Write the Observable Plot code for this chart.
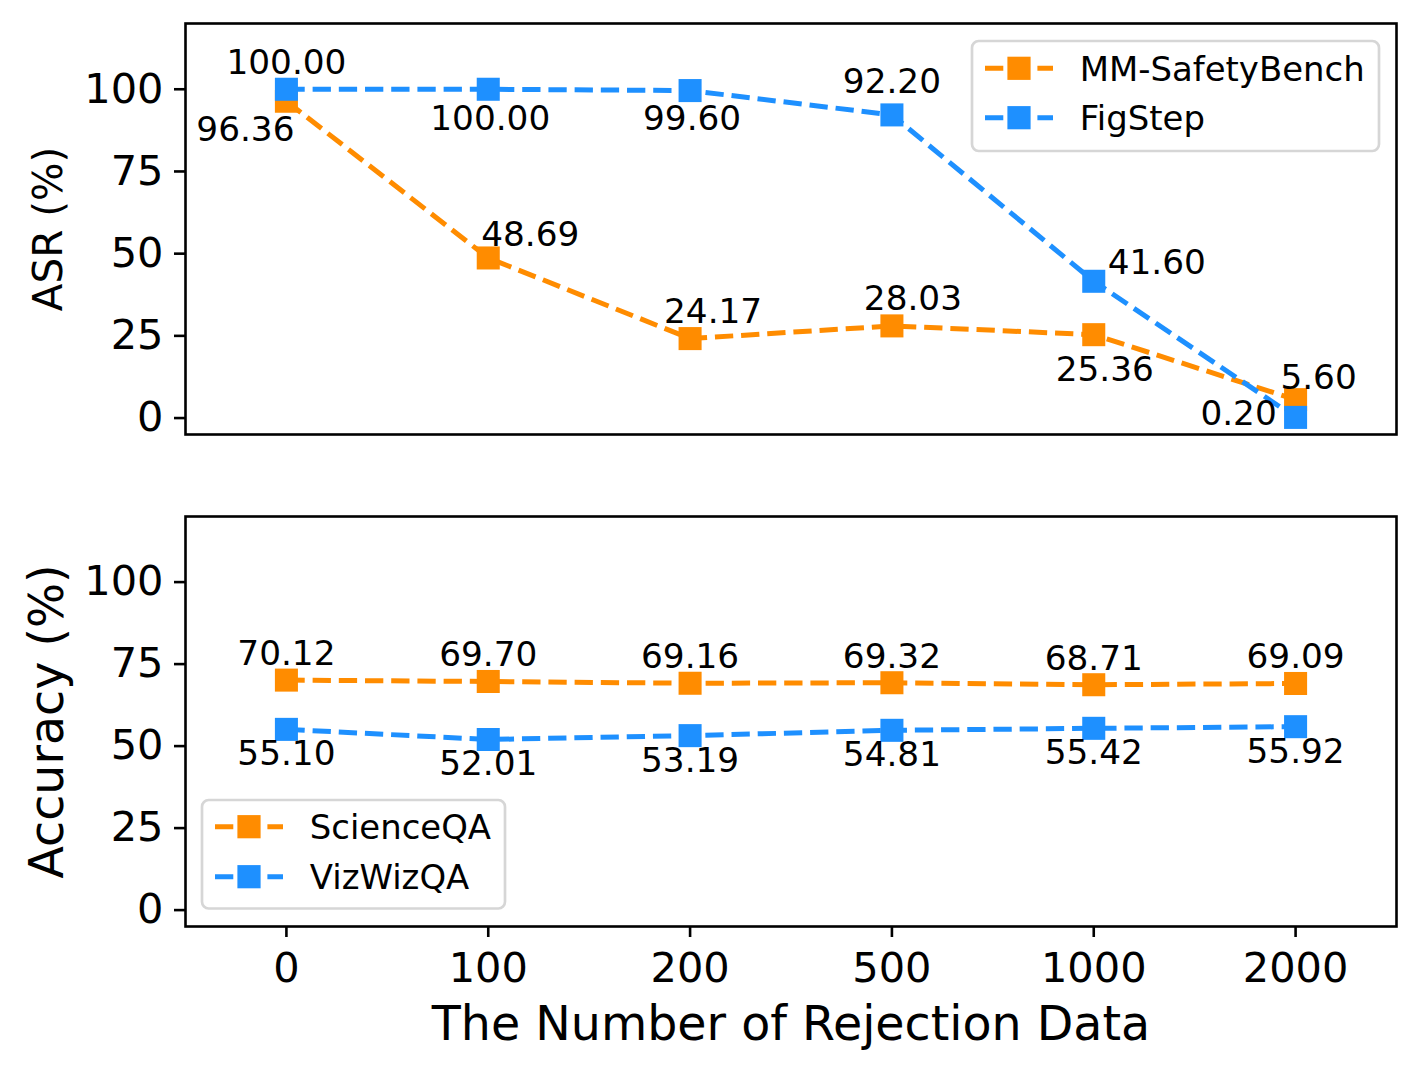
<!DOCTYPE html>
<html>
<head>
<meta charset="utf-8">
<script src="https://cdn.jsdelivr.net/npm/d3@7"></script>
<script src="https://cdn.jsdelivr.net/npm/@observablehq/plot@0.6"></script>
<style>
  html, body { margin: 0; padding: 0; background: #ffffff; }
  #chart { position: relative; width: 1420px; height: 1073px; font-family: "DejaVu Sans", sans-serif; background: #fff; }
  #chart > svg { display: block; }
  #overlay { position: absolute; left: 0; top: 0; pointer-events: none; }
</style>
</head>
<body>
<div id="chart"></div>
<script>
// ---------------- data ----------------
const xLabels = ["0", "100", "200", "500", "1000", "2000"];
const yTicks = [0, 25, 50, 75, 100];

const asrSeries = ["MM-SafetyBench", "FigStep"];
const mmSafetyBench = [96.36, 48.69, 24.17, 28.03, 25.36, 5.60];
const figStep = [100.00, 100.00, 99.60, 92.20, 41.60, 0.20];

const accSeries = ["ScienceQA", "VizWizQA"];
const scienceQA = [70.12, 69.70, 69.16, 69.32, 68.71, 69.09];
const vizWizQA = [55.10, 52.01, 53.19, 54.81, 55.42, 55.92];

const yTitleTop = "ASR (%)";
const yTitleBottom = "Accuracy (%)";
const xTitle = "The Number of Rejection Data";

// ---------------- styling ----------------
const ORANGE = "#ff8c00";
const BLUE = "#1e90ff";
const colors = [ORANGE, BLUE];
const W = 1420, ML = 185, MR = 24;
const LW = 5, DASH = "18.3,7.9";
const LABEL_FS = 34.3, TICK_FS = 41.5, LEGEND_FS = 33.9;

// label offsets (visual centre relative to the point), pixels
const labelOffsets = {
  "MM-SafetyBench": [[-41, 27.5], [42, -24.4], [23, -27.7], [21, -28], [11, 34], [23, -23.6]],
  "FigStep": [[0, -28], [2, 28], [2, 27], [0, -34], [63, -20], [-57, -5]],
  "ScienceQA": xLabels.map(() => [0, -27.5]),
  "VizWizQA": xLabels.map(() => [0, 23.5])
};

function rows(series, values) {
  return xLabels.map((x, i) => ({x, y: values[i], series, i}));
}

function panel({height, marginTop, marginBottom, series, values, yTitle, yTitleSize, yTitleDx, showX}) {
  const marks = [
    Plot.axisY({ticks: yTicks, tickSize: 11, tickPadding: 11, fontSize: TICK_FS, strokeWidth: 2.6,
                label: null, tickFormat: d => String(d)})
  ];
  if (showX) {
    marks.push(Plot.axisX({tickSize: 11, tickPadding: 15, fontSize: TICK_FS, strokeWidth: 2.6, label: null}));
  }
  series.forEach((name, k) => {
    const data = rows(name, values[k]);
    marks.push(Plot.line(data, {x: "x", y: "y", stroke: colors[k], strokeWidth: LW,
      strokeDasharray: DASH, strokeLinecap: "butt", strokeLinejoin: "round"}));
    marks.push(Plot.dot(data, {x: "x", y: "y", symbol: "square", r: 13, fill: colors[k], stroke: "none"}));
  });
  series.forEach((name, k) => {
    const data = rows(name, values[k]);
    data.forEach((d, i) => {
      const [ox, oy] = labelOffsets[name][i];
      marks.push(Plot.text([d], {x: "x", y: "y", text: r => r.y.toFixed(2), dx: ox, dy: oy + 1.5,
        fontSize: LABEL_FS, fill: "black", textAnchor: "middle", lineAnchor: "middle"}));
    });
  });
  marks.push(Plot.text([yTitle], {frameAnchor: "left", rotate: -90, dx: yTitleDx, text: d => d,
    fontSize: yTitleSize, fill: "black", textAnchor: "middle", lineAnchor: "middle"}));
  if (showX) {
    marks.push(Plot.text([xTitle], {frameAnchor: "bottom", dy: 98, text: d => d,
      fontSize: 47.5, fill: "black", textAnchor: "middle", lineAnchor: "middle"}));
  }
  marks.push(Plot.frame({stroke: "black", strokeWidth: 2.6, fill: "none"}));
  return Plot.plot({
    width: W, height, marginLeft: ML, marginRight: MR, marginTop, marginBottom,
    style: {fontFamily: "DejaVu Sans, sans-serif", color: "black", background: "white", overflow: "visible"},
    x: {type: "point", domain: xLabels, padding: 0.5, round: false, axis: null},
    y: {domain: [-5, 120], axis: null},
    marks
  });
}

const chart = document.getElementById("chart");
chart.appendChild(panel({height: 475, marginTop: 23, marginBottom: 41,
  series: asrSeries, values: [mmSafetyBench, figStep],
  yTitle: yTitleTop, yTitleSize: 40.5, yTitleDx: -136, showX: false}));
chart.appendChild(panel({height: 598, marginTop: 41, marginBottom: 147,
  series: accSeries, values: [scienceQA, vizWizQA],
  yTitle: yTitleBottom, yTitleSize: 47.5, yTitleDx: -138, showX: true}));

// ---------------- legends ----------------
const overlay = d3.select(chart).append("svg").attr("id", "overlay")
  .attr("width", W).attr("height", 1073)
  .style("font-family", "DejaVu Sans, sans-serif");

function legend({x, y, w, h, rowsY, handleX, names}) {
  overlay.append("rect").attr("x", x).attr("y", y).attr("width", w).attr("height", h)
    .attr("rx", 6.7).attr("ry", 6.7)
    .attr("fill", "rgba(255,255,255,0.8)").attr("stroke", "#d6d6d6").attr("stroke-width", 2.67);
  names.forEach((name, k) => {
    const ry = rowsY[k];
    overlay.append("line").attr("x1", handleX).attr("x2", handleX + 68).attr("y1", ry).attr("y2", ry)
      .attr("stroke", colors[k]).attr("stroke-width", LW).attr("stroke-dasharray", DASH);
    overlay.append("rect").attr("x", handleX + 34 - 11.6).attr("y", ry - 11.6)
      .attr("width", 23.2).attr("height", 23.2).attr("fill", colors[k]);
    overlay.append("text").attr("x", handleX + 94.8).attr("y", ry + 12.3)
      .attr("font-size", LEGEND_FS).attr("fill", "black").text(name);
  });
}
legend({x: 972, y: 41, w: 407, h: 110, rowsY: [68.3, 117.7], handleX: 985, names: asrSeries});
legend({x: 202, y: 800, w: 303, h: 108.5, rowsY: [826.7, 876.7], handleX: 215, names: accSeries});
</script>
</body>
</html>
